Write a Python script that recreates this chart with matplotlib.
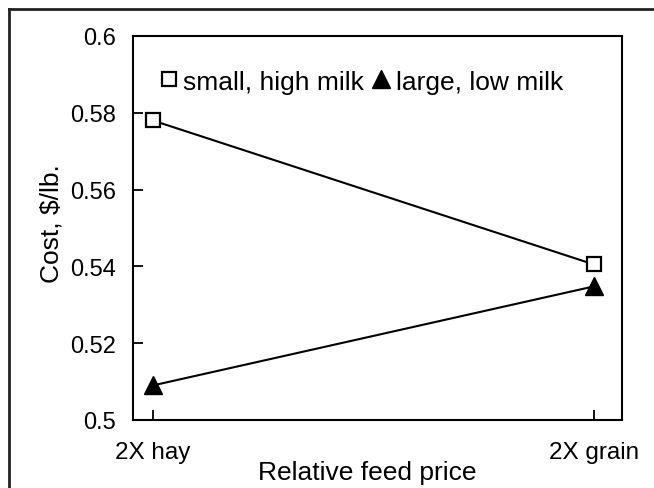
import matplotlib.pyplot as plt
from matplotlib.lines import Line2D

plt.rcParams['font.family'] = ['Liberation Sans', 'DejaVu Sans']

feed = ['2X hay', '2X grain']
small_high = [0.578, 0.5405]
large_low = [0.509, 0.5348]
yticks = [0.5, 0.52, 0.54, 0.56, 0.58, 0.6]
ylabels = ['0.5', '0.52', '0.54', '0.56', '0.58', '0.6']

fig = plt.figure(figsize=(6.54, 4.89), dpi=100)
ax = fig.add_axes([133 / 654, 1 - 421 / 489, 489 / 654, 384 / 489])

x = list(range(len(feed)))
ax.plot(x, small_high, color='black', lw=1.5, marker='s', markersize=10.5,
        markerfacecolor='white', markeredgecolor='black', markeredgewidth=1.6)
ax.plot(x, large_low, color='black', lw=1.5, marker='^', markersize=12.5,
        markerfacecolor='black', markeredgecolor='black')

ax.set_xlim(-0.045, 1.0635)
ax.set_ylim(0.5, 0.6)
ax.set_xticks(x)
ax.set_xticklabels(feed, fontsize=17.5)
ax.set_yticks(yticks)
ax.set_yticklabels(ylabels, fontsize=17)
ax.tick_params(axis='x', direction='in', length=7, width=1.3, pad=15)
ax.tick_params(axis='y', direction='in', length=7, width=1.3, pad=12)
for s in ax.spines.values():
    s.set_linewidth(1.5)

ax.set_xlabel('Relative feed price', fontsize=19)
ax.xaxis.set_label_coords(0.4796, -0.105)
ax.set_ylabel('Cost, $/lb.', fontsize=19)
ax.yaxis.set_label_coords(-0.143, 0.513)

handles = [
    Line2D([], [], ls='none', marker='s', markersize=10.5, markerfacecolor='white',
           markeredgecolor='black', markeredgewidth=1.6),
    Line2D([], [], ls='none', marker='^', markersize=12.5, color='black'),
]
ax.legend(handles, ['small, high milk', 'large, low milk'], ncol=2, frameon=False,
          fontsize=19, handlelength=0.7, handletextpad=0.2, columnspacing=0.3,
          loc='upper left', bbox_to_anchor=(0.033, 0.94), borderaxespad=0)

# outer frame (only top and left visible)
fig.add_artist(Line2D([9 / 654, 9 / 654], [0, 1 - 10 / 489], color='#222', lw=2,
                      transform=fig.transFigure))
fig.add_artist(Line2D([9 / 654, 1], [1 - 10 / 489, 1 - 10 / 489], color='#222', lw=2,
                      transform=fig.transFigure))

fig.savefig('out.png', dpi=100)
